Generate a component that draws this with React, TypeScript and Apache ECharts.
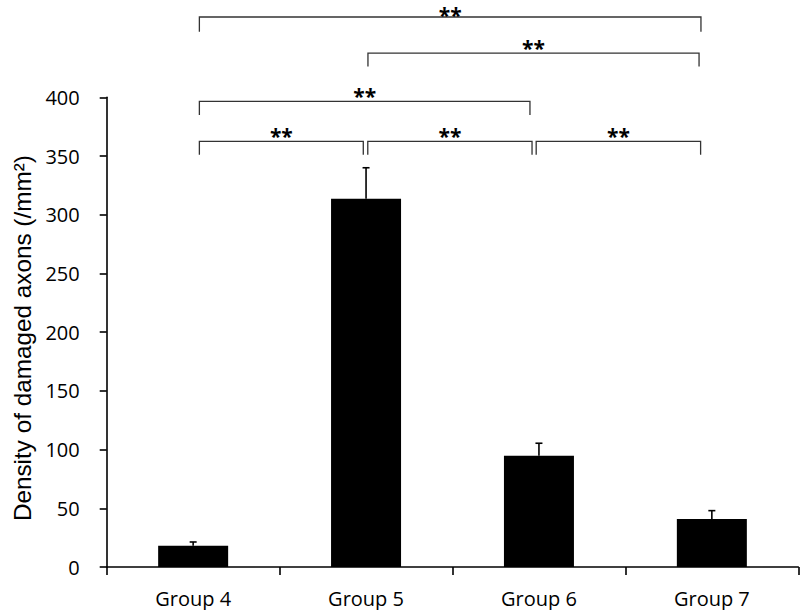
import React, { useEffect, useRef } from "react";
import * as echarts from "echarts";

const categories = ["Group 4", "Group 5", "Group 6", "Group 7"];
const means = [18.2, 313.6, 94.8, 40.9];
const errors = [3.1, 26.4, 10.6, 7.1];

const yMin = 0;
const yMax = 400;
const yInterval = 50;

// significance brackets: positions on a 0..4 scale (category i centred at i + 0.5)
const bracketFrom = [0.536, 1.51, 2.484, 0.536, 1.511, 0.536];
const bracketTo = [1.484, 2.46, 3.435, 2.448, 3.426, 3.437];
const bracketLevel = [362.5, 362.5, 362.5, 396.5, 437.7, 468.4];
const bracketDrop = [11.5, 11.5, 11.5, 11.5, 11.5, 12.5];
const bracketLabels = ["**", "**", "**", "**", "**", "**"];

export default function App() {
  const ref = useRef<HTMLDivElement>(null);
  useEffect(() => {
    document.body.style.margin = "0";
    if (!ref.current) return;
    const chart = echarts.init(ref.current, undefined, { renderer: "svg" });
    const axisFont = { fontFamily: "Open Sans", fontSize: 20, color: "#000" };
    chart.setOption({
      animation: false,
      backgroundColor: "#fff",
      grid: { left: 106.7, right: 1.7, top: 97.3, bottom: 43, containLabel: false, outerBoundsMode: "none" },
      xAxis: [
        {
          type: "category",
          data: categories,
          boundaryGap: true,
          axisLine: { lineStyle: { color: "#000", width: 1.6 } },
          axisTick: { show: true, length: 8, interval: 0, lineStyle: { color: "#000", width: 1.6 } },
          axisLabel: { ...axisFont, margin: 21, interval: 0 },
          splitLine: { show: false },
        },
        { type: "value", min: 0, max: 4, show: false },
      ],
      yAxis: {
        type: "value",
        min: yMin,
        max: yMax,
        interval: yInterval,
        name: "Density of damaged axons (/mm²)",
        nameLocation: "middle",
        nameGap: 71,
        nameTextStyle: { fontFamily: "Liberation Sans", fontSize: 24.3, color: "#000", padding: [0, 12, 0, 0] },
        axisLine: { show: true, lineStyle: { color: "#000", width: 1.6 } },
        axisTick: { show: true, length: 7, lineStyle: { color: "#000", width: 1.6 } },
        axisLabel: { ...axisFont, margin: 27 },
        splitLine: { show: false },
      },
      series: [
        {
          type: "bar",
          xAxisIndex: 0,
          data: means,
          barWidth: 70,
          itemStyle: { color: "#000" },
        },
        {
          type: "custom",
          xAxisIndex: 0,
          data: means.map((m, i) => [i, m, m + errors[i]]),
          renderItem: (params: any, api: any) => {
            const base = api.coord([api.value(0), api.value(1)]);
            const top = api.coord([api.value(0), api.value(2)]);
            const style = { stroke: "#000", lineWidth: 1.6 };
            return {
              type: "group",
              children: [
                { type: "line", shape: { x1: base[0], y1: base[1], x2: top[0], y2: top[1] }, style },
                { type: "line", shape: { x1: top[0] - 3.5, y1: top[1], x2: top[0] + 3.5, y2: top[1] }, style },
              ],
            };
          },
          z: 3,
        },
        {
          type: "custom",
          xAxisIndex: 1,
          clip: false,
          data: bracketFrom.map((f, i) => [f, bracketTo[i], bracketLevel[i], bracketLevel[i] - bracketDrop[i]]),
          renderItem: (params: any, api: any) => {
            const a = api.coord([api.value(0), api.value(2)]);
            const b = api.coord([api.value(1), api.value(2)]);
            const aLow = api.coord([api.value(0), api.value(3)]);
            const bLow = api.coord([api.value(1), api.value(3)]);
            const label = bracketLabels[params.dataIndex];
            return {
              type: "group",
              children: [
                {
                  type: "polyline",
                  shape: { points: [aLow, a, b, bLow] },
                  style: { stroke: "#333", lineWidth: 1.3, fill: "none" },
                },
                {
                  type: "text",
                  style: {
                    text: label,
                    x: (a[0] + b[0]) / 2,
                    y: Math.max(a[1] - 5, 15),
                    align: "center",
                    verticalAlign: "middle",
                    fontFamily: "Open Sans",
                    fontWeight: "bold",
                    fontSize: 21,
                    fill: "#000",
                  },
                },
              ],
            };
          },
          z: 4,
        },
      ],
    });
    return () => chart.dispose();
  }, []);
  return <div ref={ref} style={{ width: 800, height: 610 }} />;
}
